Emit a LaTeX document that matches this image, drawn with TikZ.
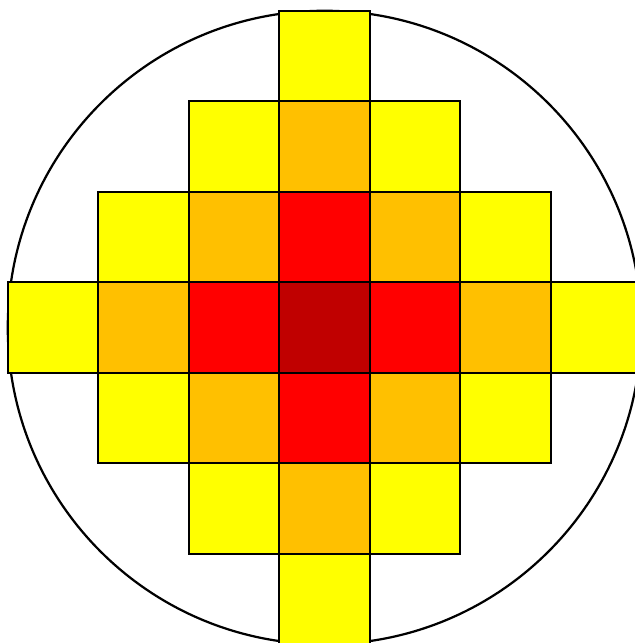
\documentclass[tikz,border=0pt]{standalone}
\usetikzlibrary{calc}
\definecolor{ring0}{HTML}{C00000}
\definecolor{ring1}{HTML}{FF0000}
\definecolor{ring2}{HTML}{FFC000}
\definecolor{ring3}{HTML}{FFFF00}
\tikzset{
  every picture/.style={line width=0.7pt},
  cell/.style={draw=black, fill=ring#1},
  rim/.style={draw=black},
}
\begin{document}
\begin{tikzpicture}
  \useasboundingbox (-3.586,-3.486) rectangle (3.420,3.619);
  % outer circle, behind the cells
  \draw[rim] (0,0) circle (3.5);
  % cells coloured by distance from the centre
  \foreach \i in {-3,...,3} {
    \foreach \j in {-3,...,3} {
      \pgfmathtruncatemacro\dist{abs(\i)+abs(\j)}
      \ifnum\dist<4
        \draw[cell=\dist] (\i-0.5,\j-0.5) rectangle ++(1,1);
      \fi
    }
  }
\end{tikzpicture}
\end{document}
